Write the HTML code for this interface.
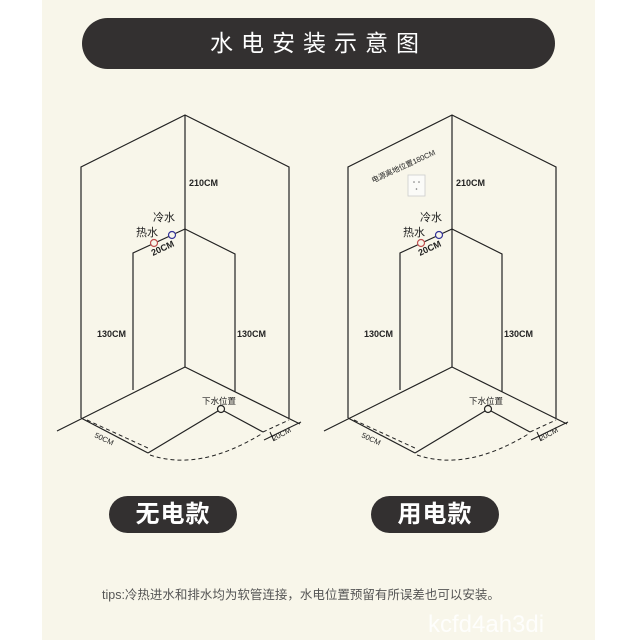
<!DOCTYPE html>
<html><head><meta charset="utf-8"><style>
html,body{margin:0;padding:0;background:#fff;}
body{width:640px;height:640px;position:relative;overflow:hidden;font-family:"Liberation Sans","Noto Sans CJK SC",sans-serif;}
.bg{position:absolute;left:42px;top:0;width:553px;height:640px;background:#f8f6ea;}
.bar{position:absolute;left:82px;top:18px;width:473px;height:51px;border-radius:26px;background:#333030;color:#fff;font-size:23px;letter-spacing:8px;text-align:center;line-height:51px;}
.btn{position:absolute;top:496px;width:128px;height:37px;border-radius:19px;background:#333030;color:#fff;font-size:24px;font-weight:bold;text-align:center;line-height:37px;letter-spacing:1px;}
.tips{position:absolute;left:102px;top:584px;font-size:12.5px;color:#555;}
.wm{position:absolute;left:428px;top:611px;font-size:24px;color:rgba(255,255,255,0.85);}
svg{position:absolute;left:0;top:0;}
</style></head><body>
<div class="bg"></div>
<div class="bar">水电安装示意图</div>
<svg width="640" height="640" viewBox="0 0 640 640" font-family="Liberation Sans, Noto Sans CJK SC, sans-serif">
<defs>
<g id="d">
<polyline points="81,418 81,167 185,115 289,167 289,418" fill="none" stroke="#222" stroke-width="1.2"/>
<line x1="185" y1="115" x2="185" y2="367" stroke="#222" stroke-width="1.2"/>
<polyline points="57,431 185,367 300,424" fill="none" stroke="#222" stroke-width="1.2"/>
<polyline points="133,390 133,253 185,229 235,254 235,392" fill="none" stroke="#222" stroke-width="1.2"/>
<line x1="81" y1="418" x2="148" y2="453" stroke="#222" stroke-width="1.2"/>
<line x1="148" y1="453" x2="218" y2="411" stroke="#222" stroke-width="1.2"/>
<line x1="224" y1="411" x2="263" y2="432" stroke="#222" stroke-width="1.2"/>
<line x1="87" y1="420" x2="150" y2="449" stroke="#222" stroke-width="1" stroke-dasharray="4,3"/>
<path d="M150,455 Q200,472 263,433" fill="none" stroke="#222" stroke-width="1" stroke-dasharray="4,3"/>
<line x1="263" y1="432" x2="289" y2="420" stroke="#222" stroke-width="1" stroke-dasharray="4,3"/>
<line x1="264" y1="440" x2="301" y2="422" stroke="#222" stroke-width="1"/>
<line x1="270" y1="432" x2="274" y2="441" stroke="#222" stroke-width="1"/>
<circle cx="221" cy="409" r="3.5" fill="#f8f6ea" stroke="#222" stroke-width="1.2"/>
<circle cx="154" cy="243" r="3.5" fill="#f8f6ea" stroke="#c05050" stroke-width="1.2"/>
<circle cx="172" cy="235" r="3.5" fill="#f8f6ea" stroke="#333399" stroke-width="1.2"/>
<g font-size="9" fill="#222" font-weight="bold">
<text x="189" y="186">210CM</text>
<text x="153" y="221" font-size="11" font-weight="normal">冷水</text>
<text x="136" y="236" font-size="11" font-weight="normal">热水</text>
<text x="153" y="256" transform="rotate(-25 153 256)">20CM</text>
<text x="97" y="337">130CM</text>
<text x="237" y="337">130CM</text>
<text x="202" y="404" font-size="8.5" font-weight="normal">下水位置</text>
<text x="94" y="437" font-size="7.5" font-weight="normal" transform="rotate(25 94 437)">50CM</text>
<text x="274" y="441" font-size="7.5" font-weight="normal" transform="rotate(-28 274 441)">20CM</text>
</g>
</g>
</defs>
<use href="#d"/>
<use href="#d" transform="translate(267,0)"/>
<text x="373" y="183" font-size="7.5" fill="#222" transform="rotate(-24.5 373 183)">电源离地位置180CM</text>
<rect x="408" y="175" width="17" height="21" fill="#fbfbf8" stroke="#ccc" stroke-width="0.8"/>
<circle cx="414" cy="182" r="0.8" fill="#777"/><circle cx="419" cy="182" r="0.8" fill="#777"/><circle cx="416.5" cy="189" r="0.8" fill="#777"/>
</svg>
<div class="btn" style="left:109px">无电款</div>
<div class="btn" style="left:371px">用电款</div>
<div class="tips">tips:冷热进水和排水均为软管连接，水电位置预留有所误差也可以安装。</div>
<div class="wm">kcfd4ah3di</div>
</body></html>
